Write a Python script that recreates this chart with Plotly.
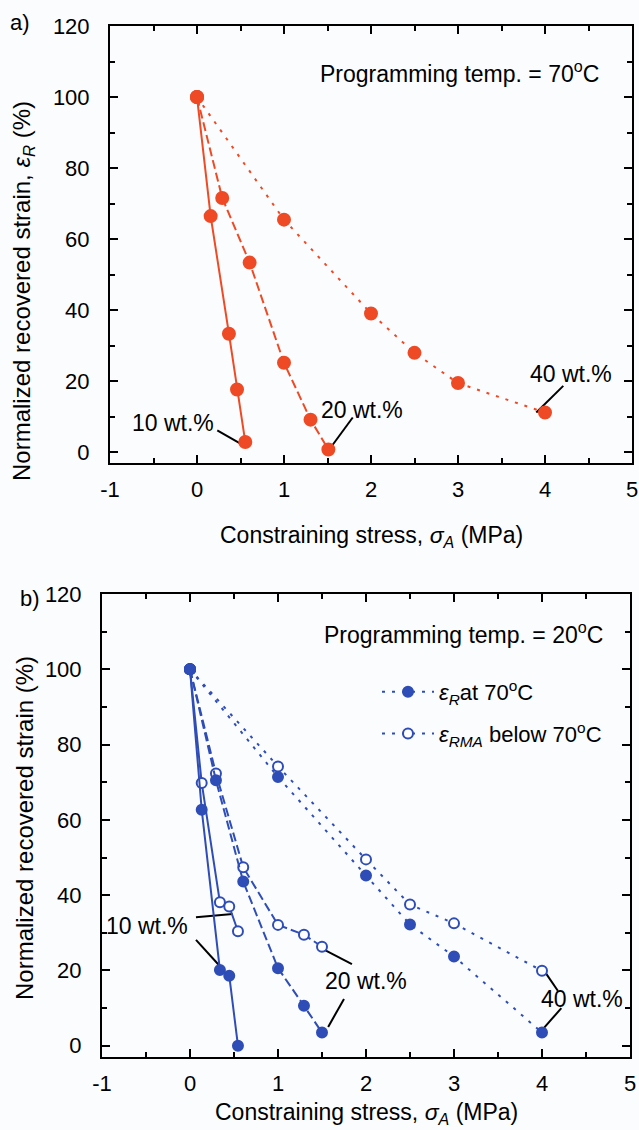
import plotly.graph_objects as go

W, H = 639, 1130
RED = "#EE4A25"
BLUE = "#2F4DB6"
FONT = "Arial, 'Liberation Sans', sans-serif"

# ---------------- data: panel a (programming temp 70 C) ----------------
a10_x = [0, 0.157, 0.367, 0.46, 0.555]
a10_y = [100, 66.5, 33.4, 17.7, 2.9]
a20_x = [0, 0.29, 0.605, 1.0, 1.305, 1.51]
a20_y = [100, 71.6, 53.4, 25.2, 9.2, 0.8]
a40_x = [0, 1.0, 2.0, 2.5, 3.0, 4.0]
a40_y = [100, 65.5, 39.1, 28.0, 19.5, 11.2]

# ---------------- data: panel b (programming temp 20 C) ----------------
b10_x = [0, 0.133, 0.34, 0.446, 0.545]
b10_fill = [100, 62.7, 20.1, 18.6, 0]
b10_open = [100, 69.8, 38.1, 37.0, 30.4]
b20_x = [0, 0.295, 0.605, 1.0, 1.295, 1.5]
b20_fill = [100, 70.5, 43.6, 20.6, 10.6, 3.5]
b20_open = [100, 72.3, 47.4, 32.1, 29.5, 26.3]
b40_x = [0, 1.0, 2.0, 2.5, 3.0, 4.0]
b40_fill = [100, 71.4, 45.2, 32.2, 23.7, 3.5]
b40_open = [100, 74.2, 49.5, 37.5, 32.5, 19.9]

x_ticks = [-1, 0, 1, 2, 3, 4, 5]
x_ticktext = ["-1", "0", "1", "2", "3", "4", "5"]
y_ticks = [0, 20, 40, 60, 80, 100, 120]

SOLID, DASH, DOT = "solid", "9px,4px", "3px,7px"

fig = go.Figure()


def add(xs, ys, color, dash, xa, ya, size, filled=True):
    fig.add_trace(go.Scatter(
        x=xs, y=ys, mode="lines+markers", xaxis=xa, yaxis=ya, showlegend=False,
        line=dict(color=color, width=2, dash=dash),
        marker=dict(symbol="circle", size=size,
                    color=color if filled else "white",
                    line=dict(color=color, width=2)),
    ))


add(a10_x, a10_y, RED, SOLID, "x", "y", 12)
add(a20_x, a20_y, RED, DASH, "x", "y", 12)
add(a40_x, a40_y, RED, DOT, "x", "y", 12)

add(b10_x, b10_open, BLUE, SOLID, "x2", "y2", 10, filled=False)
add(b10_x, b10_fill, BLUE, SOLID, "x2", "y2", 10)
add(b20_x, b20_open, BLUE, DASH, "x2", "y2", 10, filled=False)
add(b20_x, b20_fill, BLUE, DASH, "x2", "y2", 10)
add(b40_x, b40_open, BLUE, DOT, "x2", "y2", 10, filled=False)
add(b40_x, b40_fill, BLUE, DOT, "x2", "y2", 10)

# legend entries (panel b)
fig.add_trace(go.Scatter(
    x=[None], y=[None], mode="lines+markers", xaxis="x2", yaxis="y2", legendgroup="g1",
    name="<i>ε</i><sub><i>R</i></sub>at 70<sup>o</sup>C",
    line=dict(color=BLUE, width=2, dash=DOT),
    marker=dict(symbol="circle", size=10, color=BLUE, line=dict(color=BLUE, width=2))))
fig.add_trace(go.Scatter(
    x=[None], y=[None], mode="lines+markers", xaxis="x2", yaxis="y2", legendgroup="g2",
    name="<i>ε</i><sub><i>RMA</i></sub> below 70<sup>o</sup>C",
    line=dict(color=BLUE, width=2, dash=DOT),
    marker=dict(symbol="circle", size=10, color="white", line=dict(color=BLUE, width=2))))


def px_x(p):
    return p / W


def px_y(p):
    return 1 - p / H


common_x = dict(range=[-1, 5], tickvals=x_ticks, ticktext=x_ticktext, ticks="inside",
                ticklen=8, tickwidth=2, automargin=False,
                tickcolor="black", showline=True, linewidth=2, linecolor="black",
                mirror="allticks", showgrid=False, zeroline=False,
                minor=dict(ticks="inside", dtick=0.5, tick0=0, ticklen=5, tickwidth=2,
                           tickcolor="black", showgrid=False),
                tickfont=dict(size=22, color="black", family=FONT), ticklabelstandoff=6)
common_y = dict(range=[-3, 120], tickvals=y_ticks, ticks="inside", ticklen=8, tickwidth=2,
                tickcolor="black", showline=True, linewidth=2, linecolor="black",
                mirror="allticks", showgrid=False, zeroline=False, automargin=False,
                minor=dict(ticks="inside", dtick=10, tick0=0, ticklen=5, tickwidth=2,
                           tickcolor="black", showgrid=False),
                tickfont=dict(size=22, color="black", family=FONT), ticklabelstandoff=14)

fig.update_layout(
    width=W, height=H,
    margin=dict(l=0, r=0, t=0, b=0, pad=0, autoexpand=False),
    paper_bgcolor="#FBFCFE", plot_bgcolor="#FBFCFE",
    font=dict(family=FONT, size=22, color="black"),
    xaxis=dict(domain=[px_x(110), px_x(632)], anchor="y", **common_x),
    yaxis=dict(domain=[px_y(463), px_y(26)], anchor="x", **common_y),
    xaxis2=dict(domain=[px_x(102), px_x(630)], anchor="y2", **common_x),
    yaxis2=dict(domain=[px_y(1057), px_y(594)], anchor="x2", **common_y),
    legend=dict(x=px_x(377), y=px_y(671), xanchor="left", yanchor="top",
                bgcolor="rgba(0,0,0,0)", font=dict(size=22, family=FONT),
                itemwidth=52, tracegroupgap=10),
    showlegend=True,
)

ann = []


def text(x, y, s, xref="paper", yref="paper", xanchor="center", yanchor="middle", angle=0, size=23):
    ann.append(dict(x=x, y=y, xref=xref, yref=yref, text=s, showarrow=False,
                    xanchor=xanchor, yanchor=yanchor, textangle=angle,
                    font=dict(size=size, family=FONT, color="black")))


# panel labels
text(px_x(20), px_y(23), "a)", size=22)
text(px_x(30), px_y(598), "b)", size=22)

# axis titles
text(px_x(371), px_y(537), "Constraining stress, <i>σ</i><sub><i>A</i></sub> (MPa)")
text(px_x(366), px_y(1113), "Constraining stress, <i>σ</i><sub><i>A</i></sub> (MPa)")
text(px_x(24), px_y(291), "Normalized recovered strain, <i>ε</i><sub><i>R</i></sub> (%)", angle=-90, size=24)
text(px_x(24), px_y(828), "Normalized recovered strain (%)", angle=-90, size=24)

# headings
text(4.64, 107, "Programming temp. = 70<sup>o</sup>C", "x", "y", xanchor="right")
text(4.72, 109.6, "Programming temp. = 20<sup>o</sup>C", "x2", "y2", xanchor="right")

# series labels
text(0.22, 8.2, "10 wt.%", "x", "y", xanchor="right")
text(1.9, 11.8, "20 wt.%", "x", "y")
text(4.3, 22, "40 wt.%", "x", "y")
text(0.0, 31.9, "10 wt.%", "x2", "y2", xanchor="right")
text(2.0, 17.3, "20 wt.%", "x2", "y2")
text(4.45, 12.4, "40 wt.%", "x2", "y2")

shapes = []


def leader(x0, y0, x1, y1, xr, yr):
    shapes.append(dict(type="line", xref=xr, yref=yr, x0=x0, y0=y0, x1=x1, y1=y1,
                       line=dict(color="black", width=2), layer="below"))


leader(0.233, 6.2, 0.53, 2.0, "x", "y")
leader(1.79, 9.8, 1.52, 0.8, "x", "y")
leader(4.21, 18.7, 3.9, 11.2, "x", "y")
leader(0.068, 34.1, 0.484, 35.0, "x2", "y2")
leader(0.068, 28.1, 0.333, 21.3, "x2", "y2")
leader(1.84, 21.7, 1.49, 25.9, "x2", "y2")
leader(1.75, 12.4, 1.57, 5.0, "x2", "y2")
leader(4.18, 14.6, 4.01, 20.4, "x2", "y2")
leader(4.22, 10.0, 4.01, 4.4, "x2", "y2")

fig.update_layout(annotations=ann, shapes=shapes)
fig.write_html(
    "out.html",
    config={"displayModeBar": False},
    post_script="document.body.style.margin='0px';document.body.style.overflow='hidden';",
)
